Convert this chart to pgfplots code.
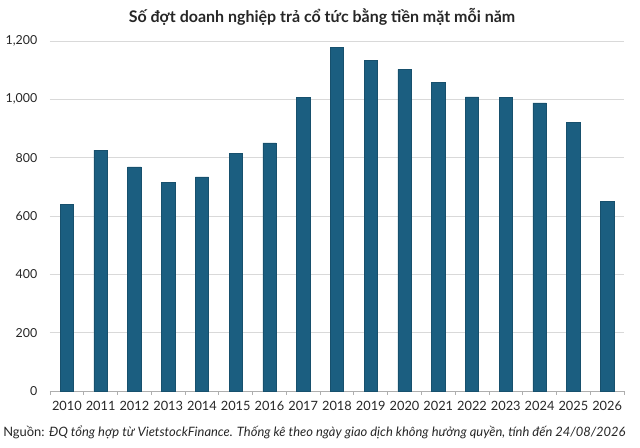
\documentclass[border=0pt]{standalone}
\usepackage{pgfplots}
\pgfplotsset{compat=1.18}
\usepackage{fontspec}
\setmainfont{Lato}
\definecolor{barc}{HTML}{1B5E80}
\definecolor{gridc}{HTML}{D9D9D9}
\definecolor{txtc}{HTML}{262626}
\begin{document}
\begin{tikzpicture}
\useasboundingbox (0,0) rectangle (480pt,336pt);
\begin{axis}[
  at={(37.5pt,42.75pt)}, anchor=south west,
  scale only axis, width=430.5pt, height=262.5pt,
  ybar, bar width=10pt,
  xmin=-0.5, xmax=16.5, ymin=0, ymax=1200,
  xtick={0,...,16},
  xticklabels={2010,2011,2012,2013,2014,2015,2016,2017,2018,2019,2020,2021,2022,2023,2024,2025,2026},
  minor xtick={-0.5,0.5,...,16.5},
  major tick length=0pt,
  minor tick length=3pt,
  tick align=outside,
  minor tick style={gridc!80!black, line width=0.6pt},
  ytick={0,200,...,1200},
  ymajorgrids, grid style={gridc, line width=0.7pt},
  axis x line*=bottom, axis y line*=left,
  y axis line style={draw=none},
  x axis line style={gridc!80!black, line width=0.6pt, -},
  /pgf/number format/assume math mode=true,
  /pgf/number format/1000 sep={,},
  tick label style={font=\fontsize{9.6pt}{11pt}\selectfont, text=txtc},
  yticklabel style={anchor=east, xshift=-6pt, font=\fontsize{9.3pt}{11pt}\selectfont},
  xticklabel style={yshift=-4pt},
  clip=false,
]
\addplot[fill=barc, draw=barc!85!black, line width=0.4pt] coordinates {
(0,640) (1,826) (2,768) (3,715) (4,734) (5,814) (6,851) (7,1007)
(8,1177) (9,1134) (10,1103) (11,1059) (12,1008) (13,1006) (14,988) (15,920) (16,651)
};
\end{axis}
\node[font=\bfseries\fontsize{12pt}{14pt}\selectfont, text=txtc] at (241.5pt,323pt) {Số đợt doanh nghiệp trả cổ tức bằng tiền mặt mỗi năm};
\node[anchor=west, inner sep=0pt, font=\fontsize{9.7pt}{11pt}\selectfont, text=txtc] at (2.25pt,12pt) {Nguồn: \textit{ĐQ tổng hợp từ VietstockFinance. Thống kê theo ngày giao dịch không hưởng quyền, tính đến 24/08/2026}};
\end{tikzpicture}
\end{document}
